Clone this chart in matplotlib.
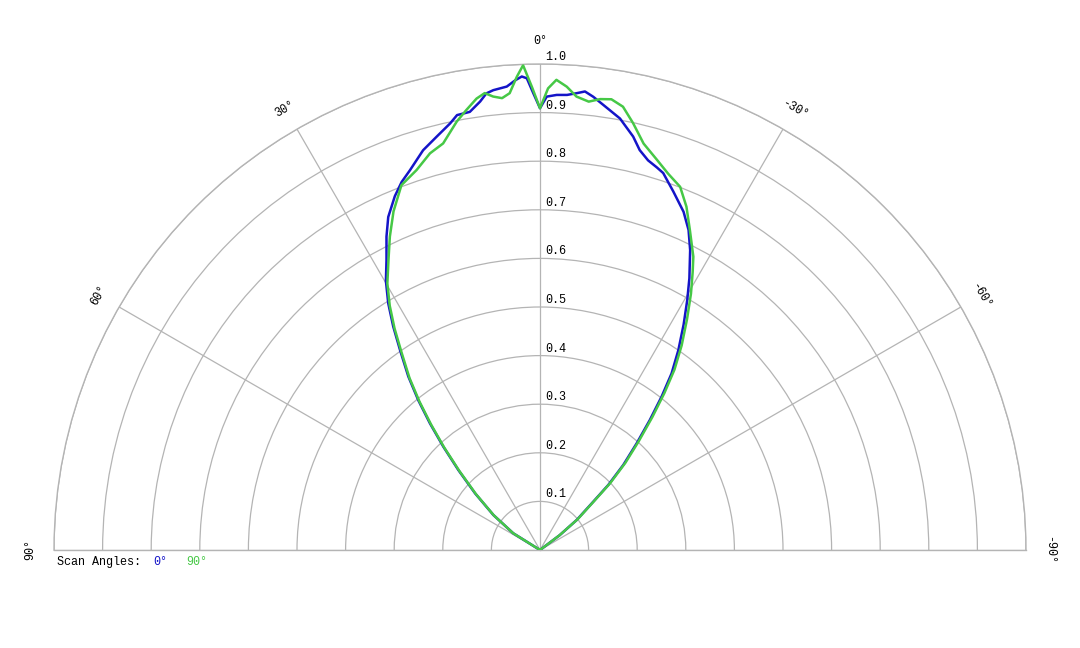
import numpy as np
import matplotlib
matplotlib.use("Agg")
import matplotlib.pyplot as plt
import matplotlib.transforms as mtransforms

# scan angle 0 deg (blue), angles in degrees, +ve to the left
blue_ang = [-90, -53.0, -50.7, -47.8, -46.4, -44.4, -42.2, -40.2, -38.4, -36.7,
            -34.7, -32.5, -30.5, -28.8, -26.6, -24.9, -23.0, -20.4, -18.1, -17.0,
            -15.5, -14.0, -12.7, -10.5, -8.1, -6.7, -5.6, -4.6, -3.4, -2.1, -0.85, 0,
            0.84, 1.6, 2.2, 3.0, 4.1, 5.8, 6.7, 7.6, 9.1, 10.8, 11.9, 14.0,
            16.3, 18.9, 20.6, 22.3, 24.5, 26.1, 27.9, 29.8, 31.6, 33.3, 35.0,
            37.2, 39.1, 41.0, 43.1, 45.6, 48.9, 53.1, 58.0, 90]
blue_r = [0, 0.051, 0.098, 0.148, 0.194, 0.245, 0.296, 0.350, 0.403, 0.453,
          0.500, 0.550, 0.597, 0.638, 0.690, 0.726, 0.756, 0.787, 0.816, 0.823,
          0.832, 0.848, 0.872, 0.903, 0.925, 0.939, 0.948, 0.943, 0.938, 0.937, 0.933, 0.909,
          0.940, 0.971, 0.975, 0.968, 0.956, 0.951, 0.946, 0.931, 0.913, 0.911, 0.897, 0.877,
          0.857, 0.826, 0.809, 0.787, 0.753, 0.718, 0.675, 0.638, 0.596, 0.550, 0.502,
          0.448, 0.397, 0.345, 0.291, 0.235, 0.177, 0.120, 0.065, 0]

# scan angle 90 deg (green)
green_ang = [-90, -53.0, -50.7, -47.8, -46.4, -44.4, -42.2, -40.2, -38.4, -36.7,
             -34.7, -32.5, -30.5, -28.8, -27.6, -25.1, -23.1, -21.1, -18.8, -16.7,
             -14.3, -12.3, -10.6, -9.0, -7.6, -6.2, -4.6, -3.3, -2.0, -1.0, 0,
             1.0, 2.0, 2.8, 3.8, 4.8, 5.9, 6.9, 8.0, 9.5, 11.0, 13.4, 15.5,
             18.0, 20.8, 23.4, 25.6, 27.6, 29.8, 31.6, 33.3, 35.0, 37.2, 39.1,
             41.0, 43.1, 45.6, 48.9, 53.1, 58.0, 90]
green_r = [0, 0.050, 0.100, 0.152, 0.199, 0.251, 0.303, 0.358, 0.412, 0.463,
           0.512, 0.563, 0.612, 0.652, 0.681, 0.727, 0.768, 0.801, 0.818, 0.838,
           0.863, 0.899, 0.928, 0.939, 0.936, 0.928, 0.936, 0.955, 0.968, 0.950, 0.909,
           0.953, 0.998, 0.975, 0.942, 0.933, 0.938, 0.947, 0.938, 0.918, 0.898, 0.860, 0.847,
           0.822, 0.803, 0.759, 0.715, 0.673, 0.632, 0.590, 0.545, 0.497, 0.444, 0.393,
           0.341, 0.288, 0.232, 0.175, 0.119, 0.065, 0]

r_ticks = [0.1, 0.2, 0.3, 0.4, 0.5, 0.6, 0.7, 0.8, 0.9, 1.0]
theta_ticks = [-90, -60, -30, 0, 30, 60, 90]

BLUE = "#1414c8"
GREEN = "#46c846"
GRID = "#b4b4b4"
FONT = "Liberation Mono"

fig = plt.figure(figsize=(10.8, 6.48), dpi=100)
# square box: the half disc sits in its squared wedge bbox (centre 550 px, radius 486 px)
ax = fig.add_axes([54 / 1080, (648 - 793) / 648, 972 / 1080, 972 / 648],
                  projection="polar")
ax.set_theta_zero_location("N")
ax.set_theta_direction(1)
ax.set_thetamin(-90)
ax.set_thetamax(90)
ax.set_ylim(0, 1)

ax.set_rgrids(r_ticks, labels=[""] * len(r_ticks))
ax.set_thetagrids(theta_ticks, labels=[""] * len(theta_ticks))
ax.grid(True, color=GRID, linewidth=0.9, linestyle="-")
for sp in ax.spines.values():
    sp.set_edgecolor(GRID)
    sp.set_linewidth(1.0)

ax.plot(np.radians(blue_ang), blue_r, color=BLUE, lw=1.8, zorder=3)
ax.plot(np.radians(green_ang), green_r, color=GREEN, lw=1.8, zorder=4)

# radial labels along the 0 deg line
off = mtransforms.offset_copy(ax.transData, fig=fig, x=5, y=1, units="dots")
for r in r_ticks:
    ax.text(0, r, "%.1f" % r, transform=off, ha="left", va="bottom",
            fontsize=8.5, family=FONT)

# angle labels
for t in theta_ticks:
    ax.text(np.radians(t), 1.048, "%d°" % t, ha="center", va="center",
            rotation=t, rotation_mode="anchor", fontsize=8.5, family=FONT)

# legend line
fig.text(57 / 1080, 1 - 562 / 648, "Scan Angles:", ha="left", va="center",
         fontsize=8.5, family=FONT)
fig.text(153 / 1080, 1 - 562 / 648, "0°", ha="left", va="center",
         fontsize=8.5, family=FONT, color=BLUE)
fig.text(186 / 1080, 1 - 562 / 648, "90°", ha="left", va="center",
         fontsize=8.5, family=FONT, color=GREEN)

fig.savefig("out.png", dpi=100)
